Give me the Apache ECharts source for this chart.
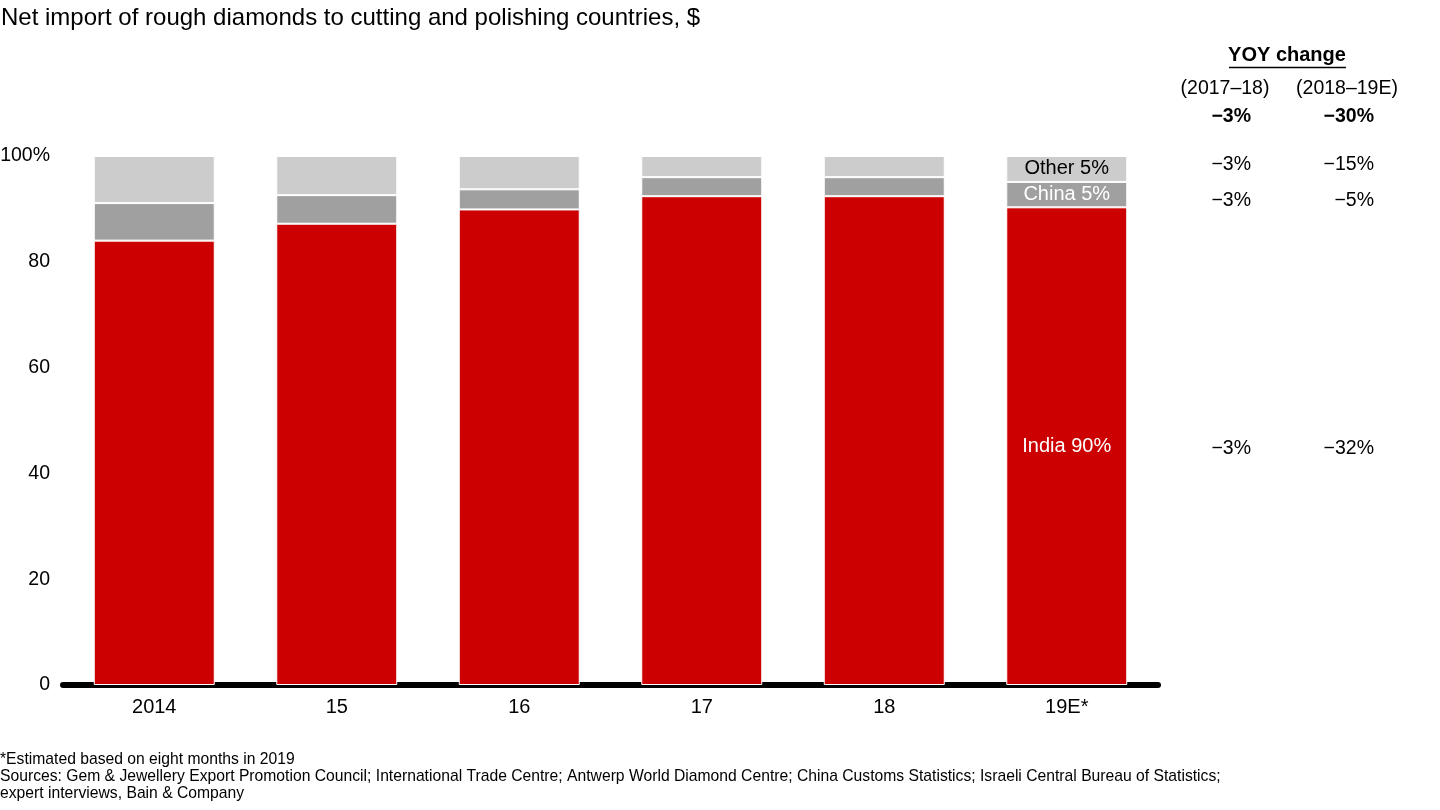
<!DOCTYPE html>
<html><head><meta charset="utf-8">
<script src="https://cdn.jsdelivr.net/npm/echarts@6/dist/echarts.min.js"></script>
<style>html,body{margin:0;padding:0;background:#fff}#c{width:1440px;height:810px}</style>
</head><body><div id="c"></div>
<script>
const categories = ['2014', '15', '16', '17', '18', '19E*'];
const india = [84.0, 87.2, 89.9, 92.4, 92.4, 90.3];
const china = [7.1, 5.4, 3.8, 3.6, 3.6, 4.8];
const other = [8.9, 7.4, 6.3, 4.0, 4.0, 4.9];
const segmentLabels = ['India 90%', 'China 5%', 'Other 5%'];
const yoyHeaders = ['(2017–18)', '(2018–19E)'];
const yoyTotal = ['−3%', '−30%'];
const yoyOther = ['−3%', '−15%'];
const yoyChina = ['−3%', '−5%'];
const yoyIndia = ['−3%', '−32%'];

const FONT = '"Liberation Sans", Arial, sans-serif';
const chart = echarts.init(document.getElementById('c'), null, {renderer: 'canvas'});

function withLastLabel(arr, text, color) {
  return arr.map((v, i) => i === arr.length - 1 ? {
    value: v,
    label: {show: true, position: 'inside', formatter: text, color: color, fontSize: 20, fontFamily: FONT}
  } : v);
}

const barStyle = c => ({color: c, borderColor: '#ffffff', borderWidth: 1});

function txt(x, y, s, opts) {
  return Object.assign({type: 'text', x: x, y: y, style: Object.assign({text: s, fill: '#000', font: '19.5px ' + FONT, textAlign: 'right', textVerticalAlign: 'middle'}, opts || {})});
}

chart.setOption({
  animation: false,
  textStyle: {fontFamily: FONT},
  title: {text: 'Net import of rough diamonds to cutting and polishing countries, $', left: -4, top: 1,
    textStyle: {fontSize: 24, fontWeight: 'normal', color: '#000', fontFamily: FONT}},
  grid: {left: 63, right: 282, top: 156, bottom: 125, containLabel: false, outerBoundsMode: 'none'},
  xAxis: {type: 'category', data: categories,
    axisLine: {lineStyle: {color: '#000', width: 6}},
    axisTick: {show: false},
    axisLabel: {fontSize: 20, color: '#000', margin: 12, fontFamily: FONT}},
  yAxis: {type: 'value', min: 0, max: 100, interval: 20,
    axisLine: {show: false}, axisTick: {show: false}, splitLine: {show: false},
    axisLabel: {fontSize: 19.5, color: '#000', margin: 13, fontFamily: FONT, padding: [7, 0, 0, 0],
      formatter: v => v === 100 ? '100%' : String(v)}},
  series: [
    {name: 'India', type: 'bar', stack: 's', barWidth: 121, data: withLastLabel(india, segmentLabels[0], '#fff'), itemStyle: barStyle('#CC0000')},
    {name: 'China', type: 'bar', stack: 's', barWidth: 121, data: withLastLabel(china, segmentLabels[1], '#fff'), itemStyle: barStyle('#A0A0A0')},
    {name: 'Other', type: 'bar', stack: 's', barWidth: 121, data: withLastLabel(other, segmentLabels[2], '#000'), itemStyle: barStyle('#CCCCCC')}
  ],
  graphic: [
    {type: 'text', x: 1287, y: 55, style: {text: 'YOY change', fill: '#000', font: 'bold 20px ' + FONT, textAlign: 'center', textVerticalAlign: 'middle'}},
    {type: 'line', shape: {x1: 1229, y1: 67.5, x2: 1346, y2: 67.5}, style: {stroke: '#000', lineWidth: 1.5}},
    txt(1225, 89, yoyHeaders[0], {textAlign: 'center'}),
    txt(1347, 89, yoyHeaders[1], {textAlign: 'center'}),
    txt(1251, 117, yoyTotal[0], {font: 'bold 19.5px ' + FONT}),
    txt(1374, 117, yoyTotal[1], {font: 'bold 19.5px ' + FONT}),
    txt(1251, 165, yoyOther[0]),
    txt(1374, 165, yoyOther[1]),
    txt(1251, 201, yoyChina[0]),
    txt(1374, 201, yoyChina[1]),
    txt(1251, 449, yoyIndia[0]),
    txt(1374, 449, yoyIndia[1]),
    {type: 'text', x: 0, y: 760, style: {text: '*Estimated based on eight months in 2019', fill: '#000', font: '15.7px ' + FONT, textVerticalAlign: 'middle'}},
    {type: 'text', x: 0, y: 777, style: {text: 'Sources: Gem & Jewellery Export Promotion Council; International Trade Centre; Antwerp World Diamond Centre; China Customs Statistics; Israeli Central Bureau of Statistics;', fill: '#000', font: '15.7px ' + FONT, textVerticalAlign: 'middle'}},
    {type: 'text', x: 0, y: 794, style: {text: 'expert interviews, Bain & Company', fill: '#000', font: '15.7px ' + FONT, textVerticalAlign: 'middle'}}
  ]
});
</script></body></html>
